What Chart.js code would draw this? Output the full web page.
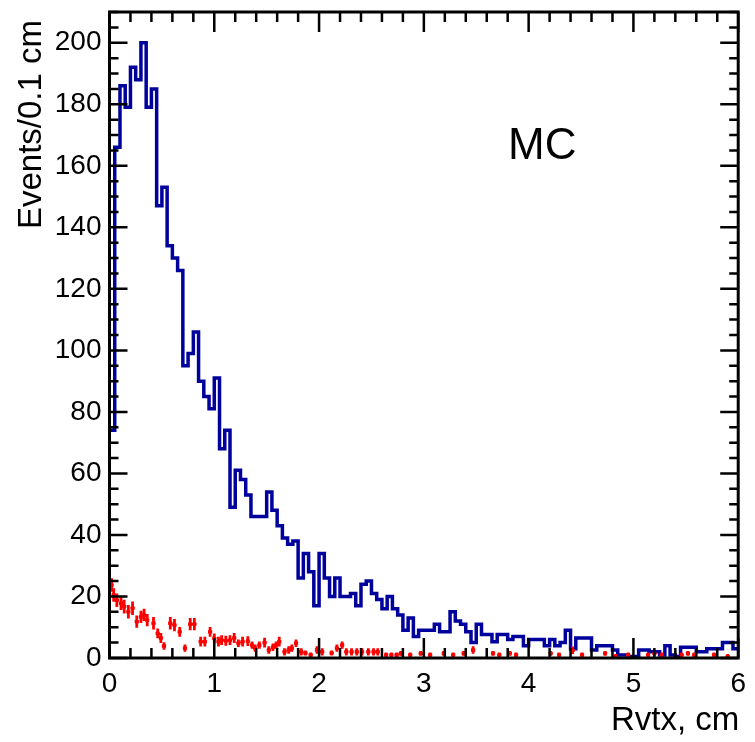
<!DOCTYPE html>
<html>
<head>
<meta charset="utf-8">
<script src="https://cdn.jsdelivr.net/npm/chart.js@4.4.0/dist/chart.umd.min.js"></script>
<style>
  body { margin: 0; background: #fff; }
  #wrap { width: 755px; height: 742px; }
</style>
</head>
<body>
<div id="wrap"><canvas id="myChart" width="755" height="742"></canvas></div>
<script>
// MC histogram, 0.05 cm bins from 0 to 6 cm
const binWidth = 0.05
const mcCounts = [
  74, 166, 186, 179, 192, 188, 200, 179, 185, 147,
  153, 134, 130, 126, 95, 99, 106, 90, 85, 81,
  91, 68, 74, 49, 61, 58, 53, 46, 46, 46,
  54, 48, 43, 39, 37, 38, 26, 34, 28, 17,
  34, 26, 20, 26, 20, 20, 21, 17, 24, 25,
  21, 19, 16, 20, 16, 14, 9, 13, 7, 9,
  9, 9, 11, 8.5, 8.5, 15, 12, 11, 8.5, 5,
  11, 7.6, 7.6, 5.3, 7.6, 7.6, 6, 7, 7, 4,
  6, 6, 6, 4, 6, 4, 5, 9, 3, 6.5,
  6.5, 6.5, 2.6, 4, 4, 4, 2.6, 1, 1, 0.5,
  0.5, 2.6, 2.6, 2, 2, 1, 4, 1, 0.5, 3.5,
  3.5, 3.5, 2, 2, 3, 3, 3, 5, 5, 3
]

// red points with error bars
const dataX = [0.02,0.04,0.07,0.11,0.14,0.18,0.22,0.26,0.30,0.33,0.36,0.42,0.46,0.49,0.52,0.58,0.62,0.67,0.72,0.77,
  0.81,0.87,0.91,0.96,1.00,1.04,1.07,1.11,1.15,1.19,1.23,1.27,1.32,1.36,1.39,1.43,1.48,1.52,1.56,1.59,
  1.62,1.67,1.71,1.74,1.78,1.83,1.87,1.92,1.98,2.03,2.12,2.17,2.22,2.26,2.31,2.36,2.41,2.47,2.52,2.56,
  2.64,2.69,2.74,2.78,2.87,2.97,3.06,3.19,3.28,3.38,3.47,3.66,3.72,3.82,3.88,4.21,4.29,4.42,4.51,4.73,
  4.83,4.95,5.14,5.20,5.27,5.46,5.52,5.58,5.77,5.90]
const dataY = [23.7,20.5,18.8,17.8,16.7,15.0,16.2,11.8,13.4,14.0,12.3,11.3,8.0,6.5,3.9,11.3,10.7,8.5,3.2,11.0,
  11.0,5.3,5.3,8.5,6.4,5.3,5.8,5.6,5.8,6.5,4.8,5.3,5.5,4.2,3.2,4.2,5.0,2.6,3.5,4.2,
  5.3,2.0,2.6,3.2,4.8,2.0,1.6,1.0,2.6,2.0,1.6,3.2,4.2,2.0,2.0,2.0,2.0,2.0,2.0,2.0,
  1.0,1.0,1.0,1.5,1.0,1.5,1.0,1.5,1.0,1.5,2.6,1.5,1.0,1.5,1.0,1.5,1.0,2.5,1.0,1.5,
  0.5,1.0,1.0,1.5,1.0,1.0,1.5,1.0,1.0,0.5]
const dataErr = [2.2,2.2,2.2,2.2,2.2,2.2,2.2,2,2,2,2,2,1.6,1.6,1.2,2,2,1.6,1.2,2,
  2,1.6,1.6,1.6,1.6,1.6,1.6,1.6,1.6,1.6,1.2,1.6,1.6,1.2,1.2,1.2,1.6,1.2,1.2,1.2,
  1.6,1.2,1.2,1.2,1.2,1.2,0.8,0.8,1.2,1.2,0.8,1.2,1.2,1.2,1.2,1.2,1.2,1.2,1.2,1.2,
  0.8,0.8,0.8,0.8,0.8,0.8,0.8,0.8,0.8,0.8,1.2,0.8,0.8,0.8,0.8,0.8,0.8,1.2,0.8,0.8,
  0.8,0.8,0.8,0.8,0.8,0.8,0.8,0.8,0.8,0.8]

const xTitle = 'Rvtx, cm'
const yTitle = 'Events/0.1 cm'
const label = 'MC'

const fontFamily = '"Liberation Sans", Arial, Helvetica, sans-serif'
Chart.defaults.font.family = fontFamily
Chart.defaults.color = '#000'

// left bin edges, plus closing point at the right end
const histPoints = mcCounts.map((v, i) => ({ x: i * binWidth, y: v }))
histPoints.push({ x: mcCounts.length * binWidth, y: mcCounts[mcCounts.length - 1] })

const redPoints = dataX.map((x, i) => ({ x: x, y: dataY[i] }))

// error bars for the red points
const errorBars = {
  id: 'errorBars',
  afterDatasetsDraw(chart) {
    const { ctx, scales: { x, y } } = chart
    ctx.save()
    ctx.strokeStyle = '#ff0000'
    ctx.lineWidth = 2.8
    ctx.beginPath()
    redPoints.forEach((p, i) => {
      const px = x.getPixelForValue(p.x)
      const e = dataErr[i] || 0
      ctx.moveTo(px, y.getPixelForValue(Math.max(0, p.y - e)))
      ctx.lineTo(px, y.getPixelForValue(p.y + e))
      ctx.moveTo(x.getPixelForValue(p.x - 0.02), y.getPixelForValue(p.y))
      ctx.lineTo(x.getPixelForValue(p.x + 0.02), y.getPixelForValue(p.y))
    })
    ctx.stroke()
    ctx.restore()
  }
}

// ROOT-style frame with inward ticks on all sides, axis titles and the MC label
const frameTicks = {
  id: 'frameTicks',
  afterDraw(chart) {
    const { ctx, chartArea: a, scales: { x, y } } = chart
    ctx.save()
    ctx.strokeStyle = '#000'
    ctx.lineWidth = 2.5
    ctx.beginPath()
    for (let k = 0; k <= 30; k++) {
      const px = x.getPixelForValue(k * 0.2)
      const len = k % 5 === 0 ? 20 : 10
      ctx.moveTo(px, a.bottom); ctx.lineTo(px, a.bottom - len)
      ctx.moveTo(px, a.top); ctx.lineTo(px, a.top + len)
    }
    for (let k = 0; k <= 42; k++) {
      const py = y.getPixelForValue(k * 5)
      const len = k % 4 === 0 ? 18 : 9
      ctx.moveTo(a.left, py); ctx.lineTo(a.left + len, py)
      ctx.moveTo(a.right, py); ctx.lineTo(a.right - len, py)
    }
    ctx.stroke()
    ctx.lineWidth = 3
    ctx.strokeRect(a.left, a.top, a.right - a.left, a.bottom - a.top)

    ctx.fillStyle = '#000'
    ctx.textBaseline = 'middle'

    ctx.font = '33px ' + fontFamily
    ctx.textAlign = 'right'
    ctx.fillText(xTitle, a.right + 1, 721)

    ctx.save()
    ctx.translate(32, a.top + 8)
    ctx.rotate(-Math.PI / 2)
    ctx.textAlign = 'right'
    ctx.fillText(yTitle, 0, 0)
    ctx.restore()

    ctx.font = '44px ' + fontFamily
    ctx.textAlign = 'center'
    ctx.fillText(label, x.getPixelForValue(4.13), y.getPixelForValue(166))
    ctx.restore()
  }
}

const ctx = document.getElementById('myChart')
const myChart = new Chart(ctx, {
  type: 'line',
  data: {
    datasets: [
      {
        label: 'MC',
        data: histPoints,
        stepped: 'before',
        borderColor: '#00009c',
        borderWidth: 3.5,
        pointRadius: 0,
        fill: false
      },
      {
        label: 'red',
        data: redPoints,
        showLine: false,
        pointStyle: 'rect',
        pointRadius: 2.5,
        backgroundColor: '#ff0000',
        borderColor: '#ff0000',
        borderWidth: 0
      }
    ]
  },
  options: {
    responsive: false,
    animation: false,
    layout: { padding: { top: 0, right: 10.5, left: 0, bottom: 0 } },
    plugins: { legend: { display: false }, tooltip: { enabled: false } },
    scales: {
      x: {
        type: 'linear',
        min: 0,
        max: 6,
        grid: { display: false, drawTicks: false },
        border: { display: false },
        ticks: { stepSize: 1, padding: 9, font: { size: 28 }, maxRotation: 0 },
        afterFit: (s) => { s.height = 84 }
      },
      y: {
        type: 'linear',
        min: 0,
        max: 210,
        grid: { display: false, drawTicks: false },
        border: { display: false },
        ticks: { stepSize: 20, includeBounds: false, padding: 8, font: { size: 28 } },
        afterFit: (s) => { s.width = 109.5; s.paddingTop = 12; s.paddingBottom = 0 }
      }
    }
  },
  plugins: [errorBars, frameTicks]
})
</script>
</body>
</html>
